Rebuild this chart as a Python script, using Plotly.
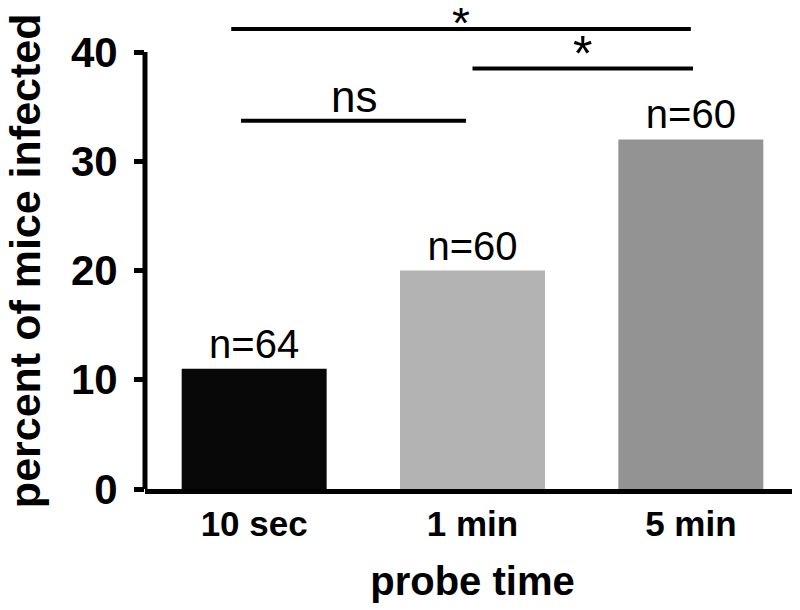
import plotly.graph_objects as go

# data
categories = ["10 sec", "1 min", "5 min"]
percent_infected = [11, 20, 32]
n_labels = ["n=64", "n=60", "n=60"]
bar_colors = ["#080808", "#b3b3b3", "#939393"]

# pairwise comparisons: (first group, second group, label)
comparisons = [(0, 2, "*"), (1, 2, "*"), (0, 1, "ns")]

FONT = "Liberation Sans, Arial, sans-serif"

fig = go.Figure()
fig.add_bar(
    x=list(range(len(categories))),
    y=percent_infected,
    marker=dict(color=bar_colors, line=dict(width=0)),
    width=0.664,
    text=n_labels,
    textposition="outside",
    textfont=dict(family=FONT, size=40, color="black"),
    cliponaxis=False,
)

# significance brackets (y in data units, x in category units)
bracket_y = [42.1, 38.5, 33.7]
bracket_x = [(-0.105, 2.0), (1.0, 2.01), (-0.06, 0.97)]
label_size = [46, 50, 44]
label_dy = [0.55, 1.3, 2.2]
for (a, b, lab), y, (x0, x1), fs, dy in zip(comparisons, bracket_y, bracket_x, label_size, label_dy):
    fig.add_shape(type="line", xref="x", yref="y", x0=x0, x1=x1, y0=y, y1=y,
                  line=dict(color="black", width=4))
    fig.add_annotation(x=(x0 + x1) / 2, y=y + dy, text=lab, showarrow=False,
                       font=dict(family=FONT, size=fs, color="black"),
                       xanchor="center", yanchor="middle")

# y axis line only up to 40
fig.add_shape(type="line", xref="paper", yref="y", x0=0, x1=0, y0=0, y1=40,
              line=dict(color="black", width=5))

# y axis title as annotation so it can sit close to the page edge
fig.add_annotation(xref="paper", yref="paper", x=-0.183, y=0.474,
                   text="percent of mice infected", textangle=-90, showarrow=False,
                   font=dict(family=FONT, size=43, color="black", weight="bold"),
                   xanchor="center", yanchor="middle")

fig.update_layout(
    width=792, height=602,
    margin=dict(l=137, r=0, t=0, b=121),
    paper_bgcolor="white", plot_bgcolor="white",
    showlegend=False,
    font=dict(family=FONT, color="black"),
    xaxis=dict(
        range=[-0.5, 2.5],
        tickvals=list(range(len(categories))),
        ticktext=categories,
        tickfont=dict(family=FONT, size=35, color="black", weight="bold"),
        showline=True, linecolor="black", linewidth=5,
        ticks="", showgrid=False, zeroline=False,
        title=dict(text="probe time", standoff=26,
                   font=dict(family=FONT, size=40, color="black", weight="bold")),
    ),
    yaxis=dict(
        range=[0, 44.03],
        tickvals=[0, 10, 20, 30, 40],
        tickfont=dict(family=FONT, size=42, color="black", weight="bold"),
        ticks="outside", ticklen=10, tickwidth=5, tickcolor="black",
        ticklabelstandoff=8,
        showline=False, showgrid=False, zeroline=False,
    ),
)

fig.write_html("out.html")
